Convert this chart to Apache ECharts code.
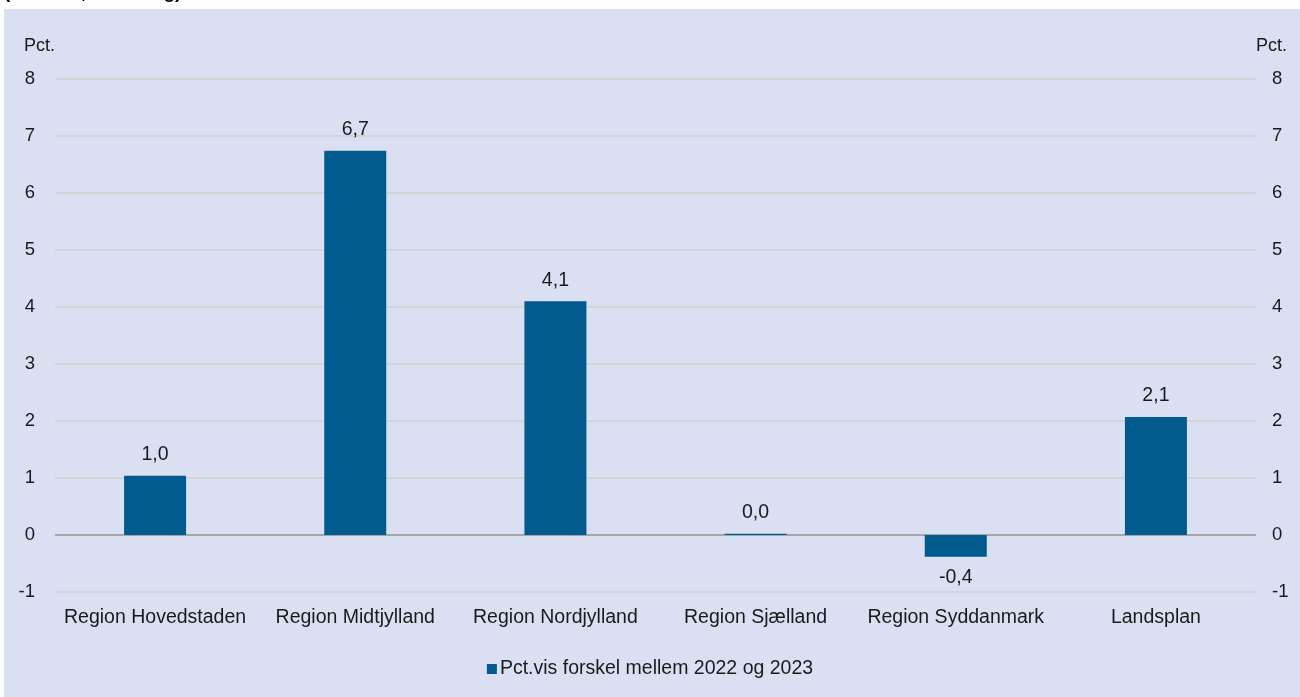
<!DOCTYPE html>
<html>
<head>
<meta charset="utf-8">
<script src="https://cdn.jsdelivr.net/npm/echarts@6/dist/echarts.min.js"></script>
<style>
  html, body { margin: 0; padding: 0; background: #ffffff; }
  #wrap { position: absolute; left: 4px; top: 9px; width: 1296px; height: 688px; background: #DAE0F2; }
  #chart { position: absolute; left: 0; top: 0; width: 1300px; height: 697px; }
</style>
</head>
<body>
<div id="wrap"></div>
<div id="chart"></div>
<script>
// Regions and percentage change between 2022 and 2023
const categories = ['Region Hovedstaden', 'Region Midtjylland', 'Region Nordjylland', 'Region Sjælland', 'Region Syddanmark', 'Landsplan'];
const changePct = [1.04, 6.74, 4.10, 0.02, -0.38, 2.07];
const seriesName = 'Pct.vis forskel mellem 2022 og 2023';
const yTicks = { min: -1, max: 8, interval: 1 };

const FONT = 'Liberation Sans, Arial, sans-serif';
const FS = 19.5;
const TXT = '#1a1a1a';
const BAR = '#015B8E';

const fmt = v => (Math.round(v * 10) / 10).toFixed(1).replace('.', ',');

const chart = echarts.init(document.getElementById('chart'), null, { renderer: 'canvas' });

const yAxisBase = {
  type: 'value',
  min: yTicks.min, max: yTicks.max, interval: yTicks.interval,
  name: 'Pct.',
  nameLocation: 'end',
  nameGap: 24,
  axisLine: { show: false },
  axisTick: { show: false },
  axisLabel: { color: TXT, fontFamily: FONT, fontSize: 18.5 }
};

chart.setOption({
  backgroundColor: 'transparent',
  textStyle: { fontFamily: FONT },
  graphic: [{
    type: 'text', left: 4, top: -17, silent: true,
    style: { text: '(Procent, udvikling)', fontFamily: FONT, fontSize: 19, fontWeight: 'bold', fill: '#000' },
    z: -1
  }],
  grid: { left: 55, right: 44, top: 79, bottom: 105, containLabel: false },
  legend: {
    bottom: 13, left: 'center',
    itemWidth: 10, itemHeight: 10, itemGap: 5,
    icon: 'rect',
    textStyle: { color: TXT, fontFamily: FONT, fontSize: FS, padding: [0, 0, 0, -2] },
    data: [seriesName]
  },
  xAxis: {
    type: 'category',
    data: categories,
    axisLine: { show: false, onZero: false },
    axisTick: { show: false },
    axisLabel: { color: TXT, fontFamily: FONT, fontSize: FS, margin: 16, interval: 0 }
  },
  yAxis: [
    Object.assign({}, yAxisBase, {
      position: 'left',
      nameTextStyle: { color: TXT, fontFamily: FONT, fontSize: 18, align: 'right' },
      axisLabel: Object.assign({}, yAxisBase.axisLabel, { margin: 20 }),
      splitLine: { show: true, lineStyle: { color: '#D3D3D8', width: 2 } }
    }),
    Object.assign({}, yAxisBase, {
      position: 'right',
      nameTextStyle: { color: TXT, fontFamily: FONT, fontSize: 18, align: 'left' },
      axisLabel: Object.assign({}, yAxisBase.axisLabel, { margin: 16 }),
      splitLine: { show: false }
    })
  ],
  series: [{
    name: seriesName,
    type: 'bar',
    yAxisIndex: 0,
    barWidth: 62,
    itemStyle: { color: BAR },
    data: changePct.map(v => ({
      value: v,
      label: { position: v < 0 ? 'bottom' : 'top' }
    })),
    label: {
      show: true,
      distance: 11,
      color: TXT, fontFamily: FONT, fontSize: FS,
      formatter: p => fmt(p.value)
    },
    markLine: {
      silent: true,
      symbol: 'none',
      label: { show: false },
      lineStyle: { color: '#A6A6AA', width: 2, type: 'solid' },
      data: [{ yAxis: 0 }],
      z: 1
    }
  }]
});
</script>
</body>
</html>
